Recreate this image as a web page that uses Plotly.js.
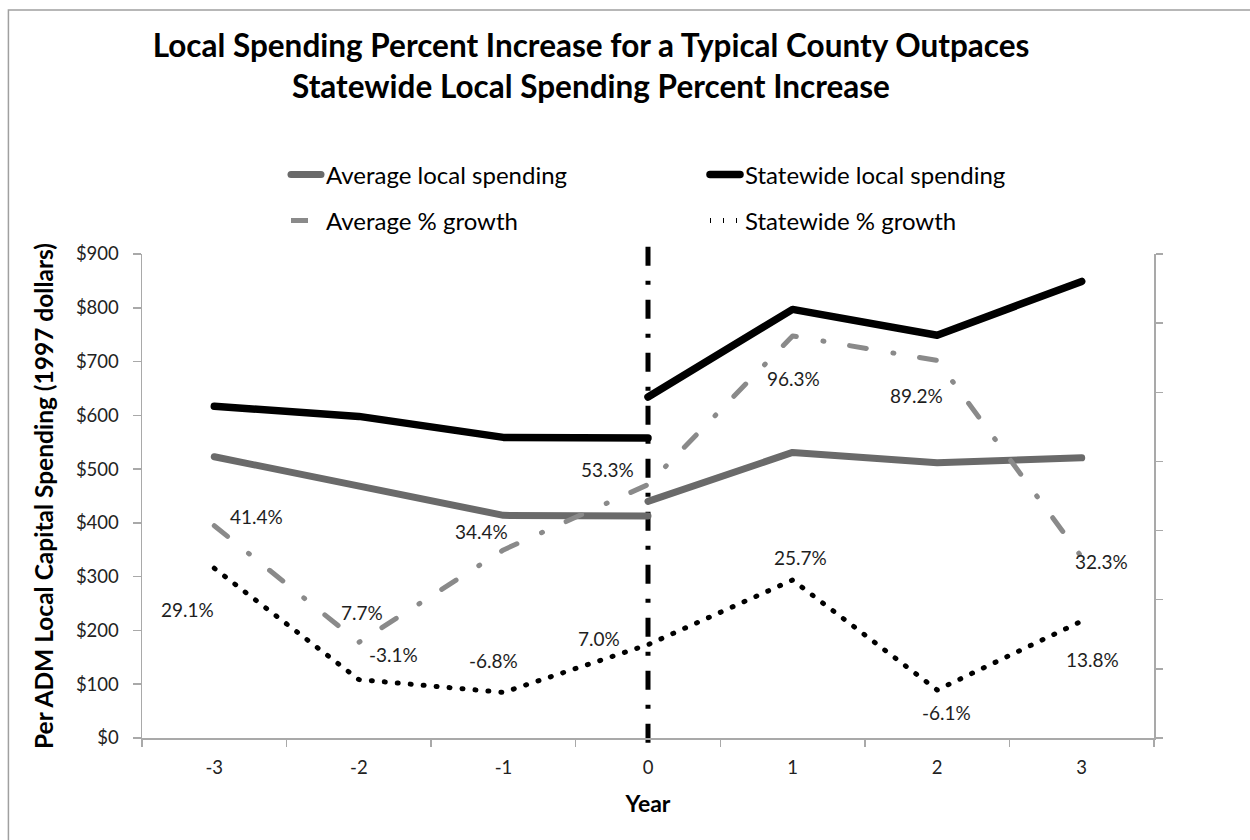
<!DOCTYPE html>
<html><head><meta charset="utf-8">
<script src="https://cdn.plot.ly/plotly-3.0.1.min.js"></script>
<style>
html,body{margin:0;padding:0;background:#fff;}
#chart{width:1250px;height:840px;}
.scatterlayer .js-line{stroke-linecap:round;stroke-linejoin:round;}
.legend .js-line{stroke-linecap:round;}
</style></head><body><div id="chart"></div>
<script>
// ---- data ----
const years = ['-3','-2','-1','0','1','2','3'];
const preYears = ['-3','-2','-1','0'];
const postYears = ['0','1','2','3'];
const avgSpendPre = [523, 470, 414, 413];
const avgSpendPost = [440, 531, 512, 521];
const stateSpendPre = [617, 598, 559, 558];
const stateSpendPost = [634, 797, 749, 849];
const avgGrowthPct = [41.4, 7.7, 34.4, 53.3, 96.3, 89.2, 32.3];
const stateGrowthPct = [29.1, -3.1, -6.8, 7.0, 25.7, -6.1, 13.8];
const yTickVals = [0, 100, 200, 300, 400, 500, 600, 700, 800, 900];
const yTickText = ['$0','$100','$200','$300','$400','$500','$600','$700','$800','$900'];
const y2TickVals = [-0.2, 0, 0.2, 0.4, 0.6, 0.8, 1.0, 1.2];
const seriesNames = ['Average local spending','Statewide local spending','Average % growth','Statewide % growth'];
const cutYear = '0';

// ---- label offsets (screen px: right, down) ----
const avgLabelOffset = [[42,-9],[3,-30],[-22,-18],[-41,-15],[1,43],[-21,35],[20,4]];
const stateLabelOffset = [[-27,41],[35,-25],[-10,-32],[-49,-6],[8,-23],[9,23],[11,38]];

const FONT = 'Lato, "Open Sans", sans-serif';
const AVG_GRAY = '#6a6a6a';
const GROWTH_GRAY = '#8a8a8a';
const AXIS_GRAY = '#a9a9a9';

const avgGrowth = avgGrowthPct.map(v => v / 100);
const stateGrowth = stateGrowthPct.map(v => v / 100);

const traces = [
  {x: preYears, y: avgSpendPre, name: seriesNames[0], mode: 'lines', legend: 'legend',
   line: {color: AVG_GRAY, width: 7}, hoverinfo: 'skip'},
  {x: postYears, y: avgSpendPost, name: seriesNames[0], mode: 'lines', showlegend: false,
   line: {color: AVG_GRAY, width: 7}, hoverinfo: 'skip'},
  {x: preYears, y: stateSpendPre, name: seriesNames[1], mode: 'lines', legend: 'legend',
   line: {color: '#000000', width: 7.5}, hoverinfo: 'skip'},
  {x: postYears, y: stateSpendPost, name: seriesNames[1], mode: 'lines', showlegend: false,
   line: {color: '#000000', width: 7.5}, hoverinfo: 'skip'},
  {x: years, y: avgGrowth, name: seriesNames[2], mode: 'lines', yaxis: 'y2', legend: 'legend2',
   line: {color: GROWTH_GRAY, width: 5, dash: '17px,27px,1px,26px'}, hoverinfo: 'skip'},
  {x: years, y: stateGrowth, name: seriesNames[3], mode: 'lines', yaxis: 'y2', legend: 'legend2',
   line: {color: '#000000', width: 5, dash: '1px,12px'}, hoverinfo: 'skip'}
];

const annotations = [];
years.forEach((yr, i) => {
  const xi = years.indexOf(yr);
  annotations.push({x: xi, y: avgGrowth[i], xref: 'x', yref: 'y2', showarrow: false,
    text: avgGrowthPct[i].toFixed(1) + '%', xshift: avgLabelOffset[i][0], yshift: -avgLabelOffset[i][1],
    font: {family: FONT, size: 19, color: '#1e1e1e'}});
  annotations.push({x: xi, y: stateGrowth[i], xref: 'x', yref: 'y2', showarrow: false,
    text: stateGrowthPct[i].toFixed(1) + '%', xshift: stateLabelOffset[i][0], yshift: -stateLabelOffset[i][1],
    font: {family: FONT, size: 19, color: '#1e1e1e'}});
});

const legendCommon = {
  orientation: 'h', xref: 'container', yref: 'container', x: 286/1250, xanchor: 'left',
  yanchor: 'middle', entrywidth: 374, entrywidthmode: 'pixels',
  font: {family: FONT, size: 24, color: '#000'}, bgcolor: 'rgba(0,0,0,0)', borderwidth: 0
};

const cutIndex = years.indexOf(cutYear);

const layout = {
  width: 1250, height: 840,
  paper_bgcolor: '#ffffff', plot_bgcolor: '#ffffff',
  margin: {l: 142, r: 96, t: 254, b: 102},
  font: {family: FONT, color: '#222'},
  title: {
    text: '<b>Local Spending Percent Increase for a Typical County Outpaces<br>Statewide Local Spending Percent Increase</b>',
    x: 591/1250, xref: 'container', xanchor: 'center',
    y: 1 - 57/840, yref: 'container', yanchor: 'middle',
    font: {family: FONT, size: 31.5, color: '#000'}
  },
  xaxis: {
    type: 'category', categoryorder: 'array', categoryarray: years, range: [-0.5, years.length - 0.5],
    tickson: 'boundaries', ticks: 'outside', ticklen: 7, tickcolor: AXIS_GRAY, tickwidth: 1.5,
    showline: true, linecolor: AXIS_GRAY, linewidth: 1.5, showgrid: false, zeroline: false,
    tickfont: {family: FONT, size: 18.5, color: '#222'}, ticklabelstandoff: 12,
    title: {text: '<b>Year</b>', font: {family: FONT, size: 23, color: '#000'}, standoff: 19},
    fixedrange: true
  },
  yaxis: {
    range: [0, 900], tickvals: yTickVals, ticktext: yTickText,
    ticks: 'outside', ticklen: 8, tickcolor: AXIS_GRAY, tickwidth: 1.5,
    showline: true, linecolor: AXIS_GRAY, linewidth: 1.5, showgrid: false, zeroline: false,
    tickfont: {family: FONT, size: 18.5, color: '#222'}, ticklabelstandoff: 10,
    title: {text: '<b>Per ADM Local Capital Spending (1997 dollars)</b>', font: {family: FONT, size: 24.5, color: '#000'}, standoff: 15},
    fixedrange: true
  },
  yaxis2: {
    overlaying: 'y', side: 'right', range: [-0.2, 1.2], tickvals: y2TickVals,
    showticklabels: false, ticks: 'outside', ticklen: 7, tickcolor: AXIS_GRAY, tickwidth: 1.5,
    showline: true, linecolor: AXIS_GRAY, linewidth: 1.5, showgrid: false, zeroline: false,
    fixedrange: true
  },
  legend: Object.assign({}, legendCommon, {y: 1 - 175/840}),
  legend2: Object.assign({}, legendCommon, {y: 1 - 221/840}),
  shapes: [
    {type: 'line', xref: 'x', yref: 'paper', x0: cutIndex, x1: cutIndex, y0: -0.01, y1: 1.018,
     line: {color: '#000', width: 5, dash: '19px,15px,4px,15px'}, layer: 'below'},
    {type: 'rect', xref: 'paper', yref: 'paper', x0: -0.132, x1: 1.2, y0: -0.3, y1: 1.504,
     line: {color: '#a0a0a0', width: 1.5}, fillcolor: 'rgba(0,0,0,0)', layer: 'below'}
  ],
  annotations: annotations,
  showlegend: true
};

Plotly.newPlot('chart', traces, layout, {displayModeBar: false, staticPlot: true});
</script></body></html>
